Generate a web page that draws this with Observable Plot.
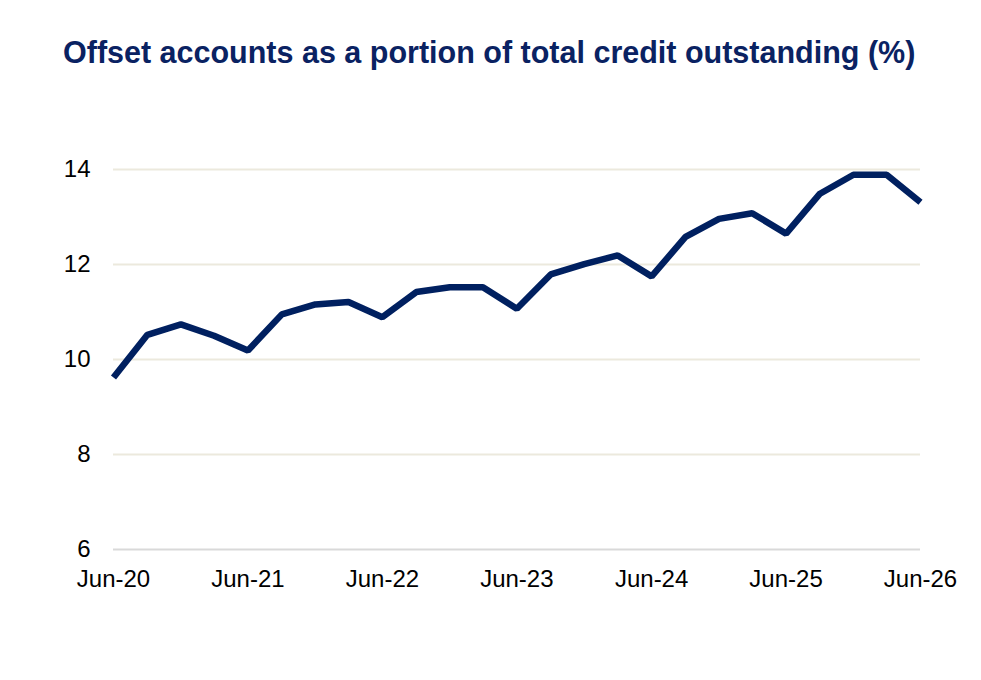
<!DOCTYPE html>
<html>
<head>
<meta charset="utf-8">
<script src="https://cdn.jsdelivr.net/npm/d3@7"></script>
<script src="https://cdn.jsdelivr.net/npm/@observablehq/plot@0.6"></script>
<style>
  html, body { margin: 0; padding: 0; background: #ffffff; }
  body { width: 981px; height: 680px; overflow: hidden; font-family: "Liberation Sans", Arial, sans-serif; }
  #title { height: 100px; box-sizing: border-box; padding: 34px 0 0 63px; font-size: 30.5px; line-height: 36px; font-weight: bold; color: #0a2262; white-space: nowrap; }
  #chart svg { display: block; }
</style>
</head>
<body>
<div id="title">Offset accounts as a portion of total credit outstanding (%)</div>
<div id="chart"></div>
<script>
const quarters = ["Jun-20","Sep-20","Dec-20","Mar-21","Jun-21","Sep-21","Dec-21","Mar-22","Jun-22","Sep-22","Dec-22","Mar-23","Jun-23","Sep-23","Dec-23","Mar-24","Jun-24","Sep-24","Dec-24","Mar-25","Jun-25","Sep-25","Dec-25","Mar-26","Jun-26"];
const offsetShare = [9.62, 10.52, 10.74, 10.50, 10.19, 10.95, 11.16, 11.21, 10.89, 11.42, 11.52, 11.52, 11.07, 11.79, 12.01, 12.19, 11.75, 12.58, 12.96, 13.08, 12.65, 13.49, 13.89, 13.89, 13.31];
const xTickLabels = ["Jun-20","Jun-21","Jun-22","Jun-23","Jun-24","Jun-25","Jun-26"];
const yTicks = [6, 8, 10, 12, 14];

const parse = d3.utcParse("%b-%y");
const fmt = d3.utcFormat("%b-%y");
const data = quarters.map((q, i) => ({date: parse(q), value: offsetShare[i]}));
const xTicks = xTickLabels.map(parse);

const chart = Plot.plot({
  width: 981,
  height: 580,
  marginLeft: 113,
  marginRight: 61,
  marginTop: 69,
  marginBottom: 131,
  style: {fontFamily: "Liberation Sans, Arial, sans-serif", fontSize: "24px", color: "#000", background: "#fff"},
  x: {type: "utc", domain: [xTicks[0], xTicks[xTicks.length - 1]]},
  y: {domain: [6, 14]},
  marks: [
    Plot.ruleY(yTicks.filter(d => d > 6), {stroke: "#ece9dd", strokeWidth: 2}),
    Plot.ruleY([6], {stroke: "#d9d9d9", strokeWidth: 2}),
    Plot.axisY({ticks: yTicks, tickSize: 0, tickPadding: 23, label: null, fill: "#000"}),
    Plot.axisX({ticks: xTicks, tickFormat: fmt, tickSize: 0, tickPadding: 20, label: null, fill: "#000"}),
    Plot.line(data, {x: "date", y: "value", stroke: "#002060", strokeWidth: 6.5, strokeLinejoin: "miter", strokeLinecap: "butt"})
  ]
});
document.getElementById("chart").appendChild(chart);
</script>
</body>
</html>
